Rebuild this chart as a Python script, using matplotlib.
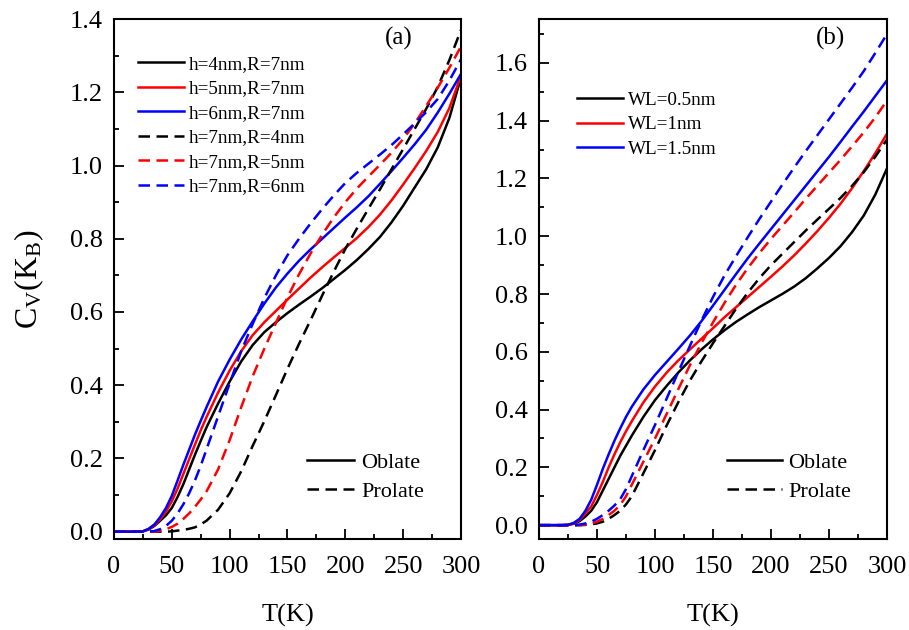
import matplotlib
matplotlib.use('Agg')
import matplotlib.pyplot as plt
from matplotlib.lines import Line2D
from matplotlib.ticker import MultipleLocator, FormatStrFormatter

plt.rcParams['font.family'] = ['Liberation Serif', 'DejaVu Serif']
plt.rcParams['mathtext.fontset'] = 'custom'
plt.rcParams['mathtext.rm'] = 'Liberation Serif'
plt.rcParams['mathtext.it'] = 'Liberation Serif:italic'

# temperature grid (K)
T = [0, 10, 20, 25, 30, 35, 40, 45, 50, 55, 60, 65, 70, 75, 80, 90, 100, 110, 120, 130,
     140, 150, 160, 170, 180, 190, 200, 210, 220, 230, 240, 250, 260, 270, 280, 290, 300]

# panel (a): oblate (solid) and prolate (dashed)
a_h4 = [0, 0, 0, 0.001, 0.006, 0.016, 0.03, 0.045, 0.065, 0.095, 0.13, 0.17, 0.21, 0.248, 0.285,
        0.35, 0.41, 0.465, 0.51, 0.545, 0.572, 0.597, 0.62, 0.642, 0.665, 0.69, 0.715, 0.742, 0.772,
        0.805, 0.845, 0.89, 0.94, 0.99, 1.05, 1.13, 1.24]
a_h5 = [0, 0, 0, 0.001, 0.007, 0.018, 0.034, 0.055, 0.083, 0.118, 0.158, 0.198, 0.238, 0.277, 0.313,
        0.38, 0.44, 0.493, 0.537, 0.572, 0.603, 0.634, 0.664, 0.694, 0.722, 0.749, 0.775, 0.802, 0.832,
        0.866, 0.905, 0.948, 0.993, 1.04, 1.092, 1.157, 1.245]
a_h6 = [0, 0, 0, 0.001, 0.008, 0.02, 0.04, 0.065, 0.098, 0.14, 0.183, 0.224, 0.265, 0.303, 0.34,
        0.41, 0.47, 0.525, 0.575, 0.623, 0.667, 0.705, 0.74, 0.771, 0.8, 0.829, 0.858, 0.886, 0.916,
        0.95, 0.985, 1.021, 1.058, 1.098, 1.145, 1.196, 1.25]
a_r4 = [0, 0, 0, 0, 0, 0, 0, 0, 0.001, 0.003, 0.005, 0.008, 0.012, 0.02, 0.03,
        0.06, 0.105, 0.165, 0.235, 0.302, 0.373, 0.445, 0.513, 0.578, 0.645, 0.71, 0.772, 0.828, 0.882,
        0.935, 0.99, 1.045, 1.1, 1.155, 1.215, 1.288, 1.37]
a_r5 = [0, 0, 0, 0, 0, 0, 0.002, 0.007, 0.013, 0.022, 0.035, 0.05, 0.068, 0.088, 0.11,
        0.17, 0.25, 0.34, 0.425, 0.5, 0.57, 0.64, 0.703, 0.76, 0.811, 0.858, 0.9, 0.937, 0.97,
        1.002, 1.035, 1.072, 1.115, 1.163, 1.213, 1.267, 1.325]
a_r6 = [0, 0, 0, 0, 0, 0.002, 0.007, 0.016, 0.03, 0.05, 0.075, 0.105, 0.14, 0.18, 0.225,
        0.315, 0.405, 0.493, 0.568, 0.638, 0.7, 0.755, 0.8, 0.842, 0.881, 0.918, 0.952, 0.98, 1.005,
        1.03, 1.056, 1.085, 1.115, 1.146, 1.182, 1.232, 1.29]

# panel (b): wetting layer thickness
b_05 = [0, 0, 0, 0.001, 0.005, 0.014, 0.03, 0.05, 0.08, 0.12, 0.16, 0.2, 0.24, 0.275, 0.31,
        0.375, 0.433, 0.482, 0.528, 0.57, 0.608, 0.643, 0.675, 0.704, 0.73, 0.755, 0.778, 0.801, 0.826,
        0.855, 0.889, 0.925, 0.966, 1.015, 1.072, 1.145, 1.235]
b_1 = [0, 0, 0, 0.001, 0.006, 0.018, 0.04, 0.065, 0.105, 0.15, 0.2, 0.245, 0.287, 0.325, 0.36,
       0.425, 0.48, 0.528, 0.57, 0.608, 0.645, 0.682, 0.72, 0.755, 0.79, 0.825, 0.86, 0.896, 0.934,
       0.975, 1.018, 1.064, 1.113, 1.167, 1.226, 1.288, 1.355]
b_15 = [0, 0, 0, 0.001, 0.008, 0.022, 0.05, 0.088, 0.14, 0.195, 0.245, 0.292, 0.335, 0.375, 0.41,
        0.47, 0.52, 0.565, 0.61, 0.656, 0.706, 0.76, 0.815, 0.87, 0.924, 0.975, 1.025, 1.075, 1.125,
        1.175, 1.225, 1.275, 1.327, 1.38, 1.432, 1.486, 1.54]
b_05d = [0, 0, 0, 0, 0, 0, 0.001, 0.003, 0.006, 0.012, 0.022, 0.035, 0.05, 0.072, 0.1,
         0.18, 0.26, 0.345, 0.425, 0.5, 0.567, 0.63, 0.69, 0.75, 0.805, 0.855, 0.9, 0.94, 0.98,
         1.02, 1.058, 1.095, 1.133, 1.175, 1.222, 1.276, 1.335]
b_1d = [0, 0, 0, 0, 0, 0, 0.002, 0.005, 0.012, 0.022, 0.035, 0.05, 0.07, 0.1, 0.14,
        0.22, 0.3, 0.385, 0.47, 0.553, 0.63, 0.702, 0.77, 0.833, 0.89, 0.942, 0.991, 1.037, 1.083,
        1.13, 1.175, 1.22, 1.265, 1.312, 1.36, 1.412, 1.47]
b_15d = [0, 0, 0, 0, 0, 0.002, 0.006, 0.012, 0.022, 0.035, 0.05, 0.068, 0.09, 0.125, 0.17,
         0.26, 0.347, 0.438, 0.53, 0.62, 0.708, 0.79, 0.865, 0.932, 0.997, 1.06, 1.12, 1.18, 1.238,
         1.295, 1.35, 1.405, 1.46, 1.515, 1.572, 1.635, 1.7]

labels_a = ['h=4nm,R=7nm', 'h=5nm,R=7nm', 'h=6nm,R=7nm',
            'h=7nm,R=4nm', 'h=7nm,R=5nm', 'h=7nm,R=6nm']
labels_b = ['WL=0.5nm', 'WL=1nm', 'WL=1.5nm']
colors = ['#000000', '#ff0000', '#0000ff']

LW = 1.8
DASH = (4.6, 2.6)

fig = plt.figure(figsize=(9.09, 6.3), dpi=100)
ax1 = fig.add_axes([0.1254, 0.1444, 0.3817, 0.8254])
ax2 = fig.add_axes([0.5930, 0.1444, 0.3828, 0.8254])


def style(ax):
    ax.set_xlim(0, 300)
    ax.xaxis.set_major_locator(MultipleLocator(50))
    ax.xaxis.set_minor_locator(MultipleLocator(25))
    ax.yaxis.set_major_locator(MultipleLocator(0.2))
    ax.yaxis.set_minor_locator(MultipleLocator(0.1))
    ax.yaxis.set_major_formatter(FormatStrFormatter('%.1f'))
    ax.tick_params(which='both', direction='in', top=False, right=False, width=1.3)
    ax.tick_params(which='major', length=7, labelsize=19)
    ax.tick_params(which='minor', length=3.5)
    ax.tick_params(axis='x', pad=12)
    ax.tick_params(axis='y', pad=8)
    for s in ax.spines.values():
        s.set_linewidth(1.5)
    ax.set_xlabel('T(K)', fontsize=19, labelpad=19)


# panel (a)
lines_a = []
for y, c in zip([a_h4, a_h5, a_h6], colors):
    lines_a += ax1.plot(T, y, color=c, lw=LW)
for y, c in zip([a_r4, a_r5, a_r6], colors):
    lines_a += ax1.plot(T, y, color=c, lw=LW, ls='--', dashes=DASH)
style(ax1)
ax1.set_ylim(-0.02, 1.4)
ax1.set_ylabel(r'C$_\mathrm{V}$(K$_\mathrm{B}$)', fontsize=23, labelpad=17)
ax1.text(0.821, 0.963, '(a)', transform=ax1.transAxes, fontsize=18, ha='center', va='center')
leg1 = ax1.legend(lines_a, labels_a, loc='upper left', bbox_to_anchor=(0.069, 0.93),
                  frameon=False, fontsize=13.8, handlelength=2.4, handletextpad=0.28,
                  labelspacing=0.37, borderpad=0, borderaxespad=0)
ax1.add_artist(leg1)
shape_h = [Line2D([], [], color='k', lw=LW), Line2D([], [], color='k', lw=LW, ls='--', dashes=DASH)]
ax1.legend(shape_h, ['Oblate', 'Prolate'], loc='upper left', bbox_to_anchor=(0.556, 0.166),
           frameon=False, fontsize=16, handlelength=2.1, handletextpad=0.36,
           labelspacing=0.37, borderpad=0, borderaxespad=0)

# panel (b)
lines_b = []
for y, c in zip([b_05, b_1, b_15], colors):
    lines_b += ax2.plot(T, y, color=c, lw=LW)
for y, c in zip([b_05d, b_1d, b_15d], colors):
    ax2.plot(T, y, color=c, lw=LW, ls='--', dashes=DASH)
style(ax2)
ax2.set_ylim(-0.048, 1.752)
ax2.text(0.839, 0.962, '(b)', transform=ax2.transAxes, fontsize=18, ha='center', va='center')
leg2 = ax2.legend(lines_b, labels_b, loc='upper left', bbox_to_anchor=(0.109, 0.861),
                  frameon=False, fontsize=13.8, handlelength=2.4, handletextpad=0.28,
                  labelspacing=0.37, borderpad=0, borderaxespad=0)
ax2.add_artist(leg2)
ax2.legend(shape_h, ['Oblate', 'Prolate'], loc='upper left', bbox_to_anchor=(0.540, 0.166),
           frameon=False, fontsize=16, handlelength=2.5, handletextpad=0.25,
           labelspacing=0.37, borderpad=0, borderaxespad=0)

fig.savefig('out.png', dpi=100)
